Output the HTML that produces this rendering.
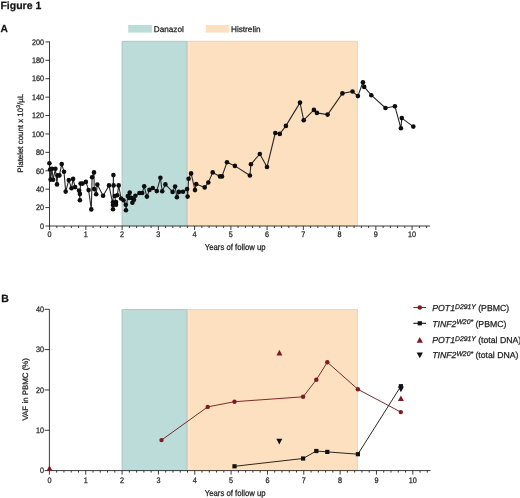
<!DOCTYPE html>
<html><head><meta charset="utf-8"><style>
html,body{margin:0;padding:0;background:#fff;width:520px;height:498px;overflow:hidden}
svg{display:block;font-family:"Liberation Sans", sans-serif;will-change:transform;filter:blur(0.3px)}
text{stroke:#222;stroke-width:0.25px;text-rendering:geometricPrecision}
</style></head><body>
<svg width="520" height="498" viewBox="0 0 520 498">
<rect width="520" height="498" fill="#fff"/>
<text x="0.4" y="9.1" font-size="10.5" text-anchor="start" font-weight="bold" font-style="normal" fill="#111" >Figure 1</text>
<text x="0.5" y="32.4" font-size="10.2" text-anchor="start" font-weight="bold" font-style="normal" fill="#111" >A</text>
<text x="1.2" y="302.4" font-size="10.5" text-anchor="start" font-weight="bold" font-style="normal" fill="#111" >B</text>
<rect x="121.7" y="40.9" width="66.4" height="185.1" fill="#bcdcda"/>
<rect x="188.1" y="40.9" width="169.8" height="185.1" fill="#fde0bf"/>
<path d="M122.2 226V41.4H187.6" stroke="#b7c9c7" stroke-width="1" fill="none"/>
<path d="M186.4 41.9V226" stroke="#bccfcd" stroke-width="1.4" fill="none"/>
<path d="M189.4 41.9V226" stroke="#fbe6cc" stroke-width="1.2" fill="none"/>
<path d="M188.6 41.4H357.4V226" stroke="#e6d6c4" stroke-width="1" fill="none"/>
<rect x="128.2" y="25" width="23.7" height="7.6" fill="#bcdcda"/>
<text x="153.8" y="31.8" font-size="8.2" text-anchor="start" font-weight="normal" font-style="normal" fill="#1a1a1a" >Danazol</text>
<rect x="205.8" y="25" width="23.4" height="7.6" fill="#fde0bf"/>
<text x="231" y="31.8" font-size="8.2" text-anchor="start" font-weight="normal" font-style="normal" fill="#1a1a1a" >Histrelin</text>
<path d="M49.5 41.6V226.5M49.1 226H430M45.4 226H49.6M45.4 207.59H49.6M45.4 189.18H49.6M45.4 170.77H49.6M45.4 152.36H49.6M45.4 133.95H49.6M45.4 115.54H49.6M45.4 97.13H49.6M45.4 78.72H49.6M45.4 60.31H49.6M45.4 41.9H49.6M49.6 226V230M56.85 226V228M64.1 226V228M71.35 226V228M78.6 226V228M85.85 226V230M93.1 226V228M100.35 226V228M107.6 226V228M114.85 226V228M122.1 226V230M129.35 226V228M136.6 226V228M143.85 226V228M151.1 226V228M158.35 226V230M165.6 226V228M172.85 226V228M180.1 226V228M187.35 226V228M194.6 226V230M201.85 226V228M209.1 226V228M216.35 226V228M223.6 226V228M230.85 226V230M238.1 226V228M245.35 226V228M252.6 226V228M259.85 226V228M267.1 226V230M274.35 226V228M281.6 226V228M288.85 226V228M296.1 226V228M303.35 226V230M310.6 226V228M317.85 226V228M325.1 226V228M332.35 226V228M339.6 226V230M346.85 226V228M354.1 226V228M361.35 226V228M368.6 226V228M375.85 226V230M383.1 226V228M390.35 226V228M397.6 226V228M404.85 226V228M412.1 226V230M419.35 226V228M426.6 226V228" stroke="#262626" stroke-width="0.9" fill="none"/>
<text transform="translate(44,228.75) scale(0.9,1)" font-size="8.0" text-anchor="end" fill="#1a1a1a">0</text>
<text transform="translate(44,210.34) scale(0.9,1)" font-size="8.0" text-anchor="end" fill="#1a1a1a">20</text>
<text transform="translate(44,191.93) scale(0.9,1)" font-size="8.0" text-anchor="end" fill="#1a1a1a">40</text>
<text transform="translate(44,173.52) scale(0.9,1)" font-size="8.0" text-anchor="end" fill="#1a1a1a">60</text>
<text transform="translate(44,155.11) scale(0.9,1)" font-size="8.0" text-anchor="end" fill="#1a1a1a">80</text>
<text transform="translate(44,136.7) scale(0.9,1)" font-size="8.0" text-anchor="end" fill="#1a1a1a">100</text>
<text transform="translate(44,118.29) scale(0.9,1)" font-size="8.0" text-anchor="end" fill="#1a1a1a">120</text>
<text transform="translate(44,99.88) scale(0.9,1)" font-size="8.0" text-anchor="end" fill="#1a1a1a">140</text>
<text transform="translate(44,81.47) scale(0.9,1)" font-size="8.0" text-anchor="end" fill="#1a1a1a">160</text>
<text transform="translate(44,63.06) scale(0.9,1)" font-size="8.0" text-anchor="end" fill="#1a1a1a">180</text>
<text transform="translate(44,44.65) scale(0.9,1)" font-size="8.0" text-anchor="end" fill="#1a1a1a">200</text>
<text transform="translate(49.6,237.2) scale(0.9,1)" font-size="8.0" text-anchor="middle" fill="#1a1a1a">0</text>
<text transform="translate(85.85,237.2) scale(0.9,1)" font-size="8.0" text-anchor="middle" fill="#1a1a1a">1</text>
<text transform="translate(122.1,237.2) scale(0.9,1)" font-size="8.0" text-anchor="middle" fill="#1a1a1a">2</text>
<text transform="translate(158.35,237.2) scale(0.9,1)" font-size="8.0" text-anchor="middle" fill="#1a1a1a">3</text>
<text transform="translate(194.6,237.2) scale(0.9,1)" font-size="8.0" text-anchor="middle" fill="#1a1a1a">4</text>
<text transform="translate(230.85,237.2) scale(0.9,1)" font-size="8.0" text-anchor="middle" fill="#1a1a1a">5</text>
<text transform="translate(267.1,237.2) scale(0.9,1)" font-size="8.0" text-anchor="middle" fill="#1a1a1a">6</text>
<text transform="translate(303.35,237.2) scale(0.9,1)" font-size="8.0" text-anchor="middle" fill="#1a1a1a">7</text>
<text transform="translate(339.6,237.2) scale(0.9,1)" font-size="8.0" text-anchor="middle" fill="#1a1a1a">8</text>
<text transform="translate(375.85,237.2) scale(0.9,1)" font-size="8.0" text-anchor="middle" fill="#1a1a1a">9</text>
<text transform="translate(412.1,237.2) scale(0.9,1)" font-size="8.0" text-anchor="middle" fill="#1a1a1a">10</text>
<text transform="translate(235.2,249.9) scale(0.9,1)" font-size="8.6" text-anchor="middle" fill="#1a1a1a">Years of follow up</text>
<text transform="translate(23.1,133.3) rotate(-90)" font-size="7.9" text-anchor="middle" fill="#1a1a1a">Platelet count x 10<tspan font-size="5.2" dy="-2.8">3</tspan><tspan dy="2.8">/µL</tspan></text>
<path d="M49.4 163.3 L50.1 169.5 L50.6 179.6 L52 168.8 L53.1 179.7 L55.4 168.8 L57 184.4 L57.5 175.4 L59.4 175.4 L61.7 164.1 L64 171.7 L65.7 191.6 L68.8 180.1 L71.5 188.3 L73.1 178.9 L75.1 187.1 L79.1 190.6 L79.9 200.2 L79.9 193.9 L80.6 183.6 L82.6 183.6 L85.9 181.9 L88.6 190.1 L91.3 209.4 L92.1 177.3 L94 172.4 L94.2 189.1 L96.2 194.3 L97.3 184.6 L103.1 195.7 L109 185.4 L113 205 L113 209.3 L113.4 175.1 L113.6 185.4 L113 202.3 L116 202 L116 204.8 L114.8 196 L117.3 195.3 L118.7 185.4 L121.1 198.5 L123.5 200.3 L125.8 204.8 L126 210.2 L127.8 196 L129.1 198 L129.7 192.5 L131.8 198 L132.4 202.8 L134 199.8 L135.4 195.7 L139.5 193 L142.2 193 L144.2 186.3 L146.9 196.6 L149.4 189.9 L152.8 188 L156.8 191.1 L160.4 177.8 L162.2 191.2 L165.4 184.4 L172.6 191.9 L175.1 186.5 L176.9 197.3 L178.9 191.9 L183 191.8 L187.1 189 L187.6 196.6 L188.6 178.8 L191.1 173.4 L195 190.1 L196.2 184.1 L204.7 187.4 L208.3 182.5 L212.7 172.4 L220 176.4 L222 176.4 L227 162.3 L234.9 165.9 L249.9 175.5 L250.9 164.3 L259.8 154 L267 167 L275.3 133 L279.8 133.9 L285.9 125.9 L300 102.6 L303.7 120.2 L313.9 109.9 L316.9 112.9 L327.6 114.6 L342.4 93.4 L352.5 91.5 L357.9 96.1 L362.9 82.3 L364.2 86.9 L371.3 95.2 L385.5 108 L394.9 106.2 L400.9 128.3 L401.8 118.1 L413.3 126.6" stroke="#2a2a2a" stroke-width="1.1" fill="none" stroke-linejoin="round"/>
<circle cx="49.4" cy="163.3" r="2.3" fill="#0d0d0d"/>
<circle cx="50.1" cy="169.5" r="2.3" fill="#0d0d0d"/>
<circle cx="50.6" cy="179.6" r="2.3" fill="#0d0d0d"/>
<circle cx="52" cy="168.8" r="2.3" fill="#0d0d0d"/>
<circle cx="53.1" cy="179.7" r="2.3" fill="#0d0d0d"/>
<circle cx="55.4" cy="168.8" r="2.3" fill="#0d0d0d"/>
<circle cx="57" cy="184.4" r="2.3" fill="#0d0d0d"/>
<circle cx="57.5" cy="175.4" r="2.3" fill="#0d0d0d"/>
<circle cx="59.4" cy="175.4" r="2.3" fill="#0d0d0d"/>
<circle cx="61.7" cy="164.1" r="2.3" fill="#0d0d0d"/>
<circle cx="64" cy="171.7" r="2.3" fill="#0d0d0d"/>
<circle cx="65.7" cy="191.6" r="2.3" fill="#0d0d0d"/>
<circle cx="68.8" cy="180.1" r="2.3" fill="#0d0d0d"/>
<circle cx="71.5" cy="188.3" r="2.3" fill="#0d0d0d"/>
<circle cx="73.1" cy="178.9" r="2.3" fill="#0d0d0d"/>
<circle cx="75.1" cy="187.1" r="2.3" fill="#0d0d0d"/>
<circle cx="79.1" cy="190.6" r="2.3" fill="#0d0d0d"/>
<circle cx="79.9" cy="200.2" r="2.3" fill="#0d0d0d"/>
<circle cx="79.9" cy="193.9" r="2.3" fill="#0d0d0d"/>
<circle cx="80.6" cy="183.6" r="2.3" fill="#0d0d0d"/>
<circle cx="82.6" cy="183.6" r="2.3" fill="#0d0d0d"/>
<circle cx="85.9" cy="181.9" r="2.3" fill="#0d0d0d"/>
<circle cx="88.6" cy="190.1" r="2.3" fill="#0d0d0d"/>
<circle cx="91.3" cy="209.4" r="2.3" fill="#0d0d0d"/>
<circle cx="92.1" cy="177.3" r="2.3" fill="#0d0d0d"/>
<circle cx="94" cy="172.4" r="2.3" fill="#0d0d0d"/>
<circle cx="94.2" cy="189.1" r="2.3" fill="#0d0d0d"/>
<circle cx="96.2" cy="194.3" r="2.3" fill="#0d0d0d"/>
<circle cx="97.3" cy="184.6" r="2.3" fill="#0d0d0d"/>
<circle cx="103.1" cy="195.7" r="2.3" fill="#0d0d0d"/>
<circle cx="109" cy="185.4" r="2.3" fill="#0d0d0d"/>
<circle cx="113" cy="205" r="2.3" fill="#0d0d0d"/>
<circle cx="113" cy="209.3" r="2.3" fill="#0d0d0d"/>
<circle cx="113.4" cy="175.1" r="2.3" fill="#0d0d0d"/>
<circle cx="113.6" cy="185.4" r="2.3" fill="#0d0d0d"/>
<circle cx="113" cy="202.3" r="2.3" fill="#0d0d0d"/>
<circle cx="116" cy="202" r="2.3" fill="#0d0d0d"/>
<circle cx="116" cy="204.8" r="2.3" fill="#0d0d0d"/>
<circle cx="114.8" cy="196" r="2.3" fill="#0d0d0d"/>
<circle cx="117.3" cy="195.3" r="2.3" fill="#0d0d0d"/>
<circle cx="118.7" cy="185.4" r="2.3" fill="#0d0d0d"/>
<circle cx="121.1" cy="198.5" r="2.3" fill="#0d0d0d"/>
<circle cx="123.5" cy="200.3" r="2.3" fill="#0d0d0d"/>
<circle cx="125.8" cy="204.8" r="2.3" fill="#0d0d0d"/>
<circle cx="126" cy="210.2" r="2.3" fill="#0d0d0d"/>
<circle cx="127.8" cy="196" r="2.3" fill="#0d0d0d"/>
<circle cx="129.1" cy="198" r="2.3" fill="#0d0d0d"/>
<circle cx="129.7" cy="192.5" r="2.3" fill="#0d0d0d"/>
<circle cx="131.8" cy="198" r="2.3" fill="#0d0d0d"/>
<circle cx="132.4" cy="202.8" r="2.3" fill="#0d0d0d"/>
<circle cx="134" cy="199.8" r="2.3" fill="#0d0d0d"/>
<circle cx="135.4" cy="195.7" r="2.3" fill="#0d0d0d"/>
<circle cx="139.5" cy="193" r="2.3" fill="#0d0d0d"/>
<circle cx="142.2" cy="193" r="2.3" fill="#0d0d0d"/>
<circle cx="144.2" cy="186.3" r="2.3" fill="#0d0d0d"/>
<circle cx="146.9" cy="196.6" r="2.3" fill="#0d0d0d"/>
<circle cx="149.4" cy="189.9" r="2.3" fill="#0d0d0d"/>
<circle cx="152.8" cy="188" r="2.3" fill="#0d0d0d"/>
<circle cx="156.8" cy="191.1" r="2.3" fill="#0d0d0d"/>
<circle cx="160.4" cy="177.8" r="2.3" fill="#0d0d0d"/>
<circle cx="162.2" cy="191.2" r="2.3" fill="#0d0d0d"/>
<circle cx="165.4" cy="184.4" r="2.3" fill="#0d0d0d"/>
<circle cx="172.6" cy="191.9" r="2.3" fill="#0d0d0d"/>
<circle cx="175.1" cy="186.5" r="2.3" fill="#0d0d0d"/>
<circle cx="176.9" cy="197.3" r="2.3" fill="#0d0d0d"/>
<circle cx="178.9" cy="191.9" r="2.3" fill="#0d0d0d"/>
<circle cx="183" cy="191.8" r="2.3" fill="#0d0d0d"/>
<circle cx="187.1" cy="189" r="2.3" fill="#0d0d0d"/>
<circle cx="187.6" cy="196.6" r="2.3" fill="#0d0d0d"/>
<circle cx="188.6" cy="178.8" r="2.3" fill="#0d0d0d"/>
<circle cx="191.1" cy="173.4" r="2.3" fill="#0d0d0d"/>
<circle cx="195" cy="190.1" r="2.3" fill="#0d0d0d"/>
<circle cx="196.2" cy="184.1" r="2.3" fill="#0d0d0d"/>
<circle cx="204.7" cy="187.4" r="2.3" fill="#0d0d0d"/>
<circle cx="208.3" cy="182.5" r="2.3" fill="#0d0d0d"/>
<circle cx="212.7" cy="172.4" r="2.3" fill="#0d0d0d"/>
<circle cx="220" cy="176.4" r="2.3" fill="#0d0d0d"/>
<circle cx="222" cy="176.4" r="2.3" fill="#0d0d0d"/>
<circle cx="227" cy="162.3" r="2.3" fill="#0d0d0d"/>
<circle cx="234.9" cy="165.9" r="2.3" fill="#0d0d0d"/>
<circle cx="249.9" cy="175.5" r="2.3" fill="#0d0d0d"/>
<circle cx="250.9" cy="164.3" r="2.3" fill="#0d0d0d"/>
<circle cx="259.8" cy="154" r="2.3" fill="#0d0d0d"/>
<circle cx="267" cy="167" r="2.3" fill="#0d0d0d"/>
<circle cx="275.3" cy="133" r="2.3" fill="#0d0d0d"/>
<circle cx="279.8" cy="133.9" r="2.3" fill="#0d0d0d"/>
<circle cx="285.9" cy="125.9" r="2.3" fill="#0d0d0d"/>
<circle cx="300" cy="102.6" r="2.3" fill="#0d0d0d"/>
<circle cx="303.7" cy="120.2" r="2.3" fill="#0d0d0d"/>
<circle cx="313.9" cy="109.9" r="2.3" fill="#0d0d0d"/>
<circle cx="316.9" cy="112.9" r="2.3" fill="#0d0d0d"/>
<circle cx="327.6" cy="114.6" r="2.3" fill="#0d0d0d"/>
<circle cx="342.4" cy="93.4" r="2.3" fill="#0d0d0d"/>
<circle cx="352.5" cy="91.5" r="2.3" fill="#0d0d0d"/>
<circle cx="357.9" cy="96.1" r="2.3" fill="#0d0d0d"/>
<circle cx="362.9" cy="82.3" r="2.3" fill="#0d0d0d"/>
<circle cx="364.2" cy="86.9" r="2.3" fill="#0d0d0d"/>
<circle cx="371.3" cy="95.2" r="2.3" fill="#0d0d0d"/>
<circle cx="385.5" cy="108" r="2.3" fill="#0d0d0d"/>
<circle cx="394.9" cy="106.2" r="2.3" fill="#0d0d0d"/>
<circle cx="400.9" cy="128.3" r="2.3" fill="#0d0d0d"/>
<circle cx="401.8" cy="118.1" r="2.3" fill="#0d0d0d"/>
<circle cx="413.3" cy="126.6" r="2.3" fill="#0d0d0d"/>
<rect x="121.7" y="309" width="66.4" height="161.6" fill="#bcdcda"/>
<rect x="188.1" y="309" width="169.8" height="161.6" fill="#fde0bf"/>
<path d="M122.2 470.6V309.5H187.6" stroke="#b7c9c7" stroke-width="1" fill="none"/>
<path d="M186.4 310V470.6" stroke="#bccfcd" stroke-width="1.4" fill="none"/>
<path d="M189.4 310V470.6" stroke="#fbe6cc" stroke-width="1.2" fill="none"/>
<path d="M188.6 309.5H357.4V470.6" stroke="#e6d6c4" stroke-width="1" fill="none"/>
<path d="M49.4 309.3V471.1M48.9 470.6H430.6M44.6 470.6H49.4M44.6 430.28H49.4M44.6 389.95H49.4M44.6 349.62H49.4M44.6 309.3H49.4M49.4 470.6V474.6M56.67 470.6V472.6M63.94 470.6V472.6M71.2 470.6V472.6M78.47 470.6V472.6M85.74 470.6V474.6M93.01 470.6V472.6M100.28 470.6V472.6M107.54 470.6V472.6M114.81 470.6V472.6M122.08 470.6V474.6M129.35 470.6V472.6M136.62 470.6V472.6M143.88 470.6V472.6M151.15 470.6V472.6M158.42 470.6V474.6M165.69 470.6V472.6M172.96 470.6V472.6M180.22 470.6V472.6M187.49 470.6V472.6M194.76 470.6V474.6M202.03 470.6V472.6M209.3 470.6V472.6M216.56 470.6V472.6M223.83 470.6V472.6M231.1 470.6V474.6M238.37 470.6V472.6M245.64 470.6V472.6M252.9 470.6V472.6M260.17 470.6V472.6M267.44 470.6V474.6M274.71 470.6V472.6M281.98 470.6V472.6M289.24 470.6V472.6M296.51 470.6V472.6M303.78 470.6V474.6M311.05 470.6V472.6M318.32 470.6V472.6M325.58 470.6V472.6M332.85 470.6V472.6M340.12 470.6V474.6M347.39 470.6V472.6M354.66 470.6V472.6M361.92 470.6V472.6M369.19 470.6V472.6M376.46 470.6V474.6M383.73 470.6V472.6M391 470.6V472.6M398.26 470.6V472.6M405.53 470.6V472.6M412.8 470.6V474.6M420.07 470.6V472.6M427.34 470.6V472.6" stroke="#262626" stroke-width="0.9" fill="none"/>
<text transform="translate(44,473.35) scale(0.9,1)" font-size="8.0" text-anchor="end" fill="#1a1a1a">0</text>
<text transform="translate(44,433.03) scale(0.9,1)" font-size="8.0" text-anchor="end" fill="#1a1a1a">10</text>
<text transform="translate(44,392.7) scale(0.9,1)" font-size="8.0" text-anchor="end" fill="#1a1a1a">20</text>
<text transform="translate(44,352.38) scale(0.9,1)" font-size="8.0" text-anchor="end" fill="#1a1a1a">30</text>
<text transform="translate(44,312.05) scale(0.9,1)" font-size="8.0" text-anchor="end" fill="#1a1a1a">40</text>
<text transform="translate(49.4,482.6) scale(0.9,1)" font-size="8.0" text-anchor="middle" fill="#1a1a1a">0</text>
<text transform="translate(85.74,482.6) scale(0.9,1)" font-size="8.0" text-anchor="middle" fill="#1a1a1a">1</text>
<text transform="translate(122.08,482.6) scale(0.9,1)" font-size="8.0" text-anchor="middle" fill="#1a1a1a">2</text>
<text transform="translate(158.42,482.6) scale(0.9,1)" font-size="8.0" text-anchor="middle" fill="#1a1a1a">3</text>
<text transform="translate(194.76,482.6) scale(0.9,1)" font-size="8.0" text-anchor="middle" fill="#1a1a1a">4</text>
<text transform="translate(231.1,482.6) scale(0.9,1)" font-size="8.0" text-anchor="middle" fill="#1a1a1a">5</text>
<text transform="translate(267.44,482.6) scale(0.9,1)" font-size="8.0" text-anchor="middle" fill="#1a1a1a">6</text>
<text transform="translate(303.78,482.6) scale(0.9,1)" font-size="8.0" text-anchor="middle" fill="#1a1a1a">7</text>
<text transform="translate(340.12,482.6) scale(0.9,1)" font-size="8.0" text-anchor="middle" fill="#1a1a1a">8</text>
<text transform="translate(376.46,482.6) scale(0.9,1)" font-size="8.0" text-anchor="middle" fill="#1a1a1a">9</text>
<text transform="translate(412.8,482.6) scale(0.9,1)" font-size="8.0" text-anchor="middle" fill="#1a1a1a">10</text>
<text transform="translate(235.2,495.6) scale(0.9,1)" font-size="8.6" text-anchor="middle" fill="#1a1a1a">Years of follow up</text>
<text transform="translate(27.6,389.3) rotate(-90)" font-size="7.9" text-anchor="middle" fill="#1a1a1a">VAF in PBMC (%)</text>
<path d="M161.5 440.1 L207.7 406.9 L234.5 401.7 L303.1 396.8 L316.3 379.8 L327.3 362.2 L357.9 389.3 L400.8 412.1" stroke="#7d2a2a" stroke-width="1" fill="none"/>
<circle cx="161.5" cy="440.1" r="2.2" fill="#7f1b20"/>
<circle cx="207.7" cy="406.9" r="2.2" fill="#7f1b20"/>
<circle cx="234.5" cy="401.7" r="2.2" fill="#7f1b20"/>
<circle cx="303.1" cy="396.8" r="2.2" fill="#7f1b20"/>
<circle cx="316.3" cy="379.8" r="2.2" fill="#7f1b20"/>
<circle cx="327.3" cy="362.2" r="2.2" fill="#7f1b20"/>
<circle cx="357.9" cy="389.3" r="2.2" fill="#7f1b20"/>
<circle cx="400.8" cy="412.1" r="2.2" fill="#7f1b20"/>
<path d="M234.5 466.3 L303.1 458.5 L316.3 451 L327.3 451.9 L357.9 454.2 L400.9 386.2" stroke="#111" stroke-width="0.9" fill="none"/>
<rect x="232.4" y="464.2" width="4.2" height="4.2" fill="#111"/>
<rect x="301" y="456.4" width="4.2" height="4.2" fill="#111"/>
<rect x="314.2" y="448.9" width="4.2" height="4.2" fill="#111"/>
<rect x="325.2" y="449.8" width="4.2" height="4.2" fill="#111"/>
<rect x="355.8" y="452.1" width="4.2" height="4.2" fill="#111"/>
<rect x="398.8" y="384.1" width="4.2" height="4.2" fill="#111"/>
<path d="M49.5 465.3L52.5 471L46.5 471Z" fill="#7f1b20"/>
<path d="M279.4 349.7L282.4 355.4L276.4 355.4Z" fill="#7f1b20"/>
<path d="M400.9 395.4L403.9 401.1L397.9 401.1Z" fill="#7f1b20"/>
<path d="M276.3 438.8L282.3 438.8L279.3 444.5Z" fill="#111"/>
<path d="M397.9 386.5L403.9 386.5L400.9 392.2Z" fill="#111"/>
<path d="M413.4 307.5H426" stroke="#7d2a2a" stroke-width="1.1"/>
<circle cx="419.8" cy="307.5" r="2.25" fill="#7f1b20"/>
<path d="M413.4 323.3H426" stroke="#111" stroke-width="1.1"/>
<rect x="417.7" y="321.2" width="4.2" height="4.2" fill="#111"/>
<path d="M419.8 336.91L422.9 342.79L416.7 342.79Z" fill="#7f1b20"/>
<path d="M416.7 352.41L422.9 352.41L419.8 358.29Z" fill="#111"/>
<text x="432.3" y="310.7" font-size="8.7" fill="#1a1a1a"><tspan font-style="italic">POT1</tspan><tspan font-style="italic" font-size="6.8" dy="-2.2">D291Y</tspan><tspan dy="2.2"> (PBMC)</tspan></text>
<text x="432.3" y="326.5" font-size="8.7" fill="#1a1a1a"><tspan font-style="italic">TINF2</tspan><tspan font-style="italic" font-size="6.8" dy="-2.2">W20*</tspan><tspan dy="2.2"> (PBMC)</tspan></text>
<text x="432.3" y="343.2" font-size="8.7" fill="#1a1a1a"><tspan font-style="italic">POT1</tspan><tspan font-style="italic" font-size="6.8" dy="-2.2">D291Y</tspan><tspan dy="2.2"> (total DNA)</tspan></text>
<text x="432.3" y="358.4" font-size="8.7" fill="#1a1a1a"><tspan font-style="italic">TINF2</tspan><tspan font-style="italic" font-size="6.8" dy="-2.2">W20*</tspan><tspan dy="2.2"> (total DNA)</tspan></text>
</svg>
</body></html>
